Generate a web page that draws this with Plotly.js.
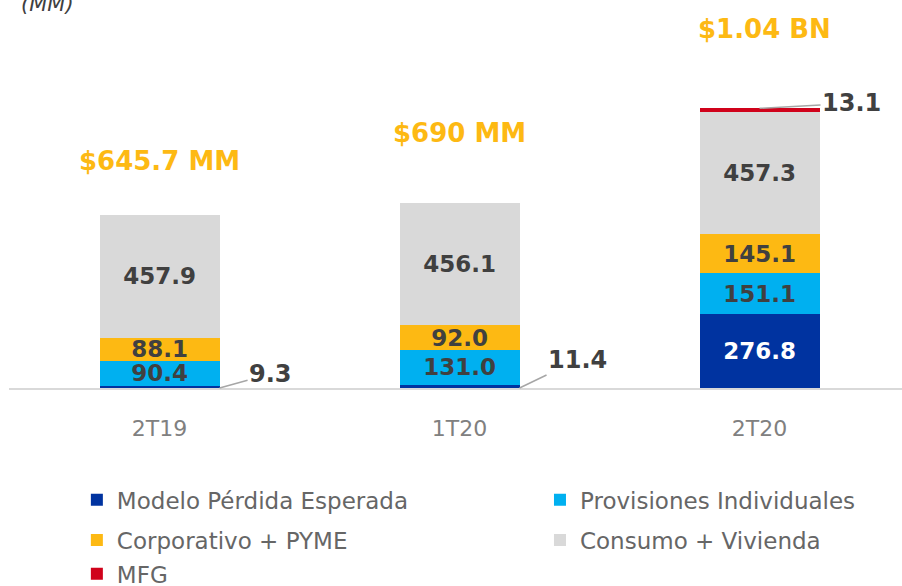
<!DOCTYPE html>
<html>
<head>
<meta charset="utf-8">
<script src="https://cdn.plot.ly/plotly-3.0.1.min.js"></script>
<style>html,body{margin:0;padding:0;background:#fff;}#chart{width:902px;height:586px;}</style>
</head>
<body>
<div id="chart"></div>
<script>
const categories = ['2T19', '1T20', '2T20'];
const modelo = [9.3, 11.4, 276.8];
const provisiones = [90.4, 131.0, 151.1];
const corporativo = [88.1, 92.0, 145.1];
const consumo = [457.9, 456.1, 457.3];
const mfg = [0, 0, 13.1];
const totalLabels = ['$645.7 MM', '$690 MM', '$1.04 BN'];
const seriesNames = ['Modelo Pérdida Esperada', 'Provisiones Individuales', 'Corporativo + PYME', 'Consumo + Vivienda', 'MFG'];

const FONT = 'DejaVu Sans';
const colors = ['#0033A0', '#00B0F0', '#FDB913', '#D9D9D9', '#D0021B'];
const labelColors = ['#FFFFFF', '#404040', '#404040', '#404040', '#404040'];
const legendIds = ['legend', 'legend2', 'legend3', 'legend4', 'legend5'];
const series = [modelo, provisiones, corporativo, consumo, mfg];
const insideMin = 50;

const traces = series.map((vals, s) => ({
  type: 'bar',
  name: seriesNames[s],
  x: categories,
  y: vals,
  marker: {color: colors[s], line: {width: 0}},
  text: vals.map(v => v >= insideMin ? v.toFixed(1) : ''),
  textposition: 'inside',
  insidetextanchor: 'middle',
  textangle: 0,
  constraintext: 'none',
  insidetextfont: {family: FONT, size: 23, color: labelColors[s], weight: 'bold'},
  hoverinfo: 'skip',
  legend: legendIds[s]
}));

const totals = categories.map((c, i) => series.reduce((a, v) => a + v[i], 0));
const totalShift = [54, 70, 79];
const totalX = [0, 0, 5];
const annotations = [];
categories.forEach((c, i) => {
  annotations.push({
    x: i, y: totals[i], xref: 'x', yref: 'y', text: totalLabels[i], showarrow: false,
    yshift: totalShift[i], xshift: totalX[i],
    font: {family: FONT, size: 26, color: '#FDB913', weight: 'bold'}
  });
});
// callouts for small segments
const calloutFont = {family: FONT, size: 24, color: '#404040', weight: 'bold'};
const modeloOffsets = [[51, -14], [58, -28], [0, 0]];
modelo.forEach((v, i) => {
  if (v > 0 && v < insideMin) {
    annotations.push({
      x: i + 0.2, y: 0, xref: 'x', yref: 'y', text: v.toFixed(1), showarrow: true,
      arrowhead: 0, arrowwidth: 1.5, arrowcolor: '#A6A6A6', standoff: 0,
      ax: modeloOffsets[i][0], ay: modeloOffsets[i][1],
      font: calloutFont
    });
  }
});
mfg.forEach((v, i) => {
  if (v > 0 && v < insideMin) {
    annotations.push({
      x: i, y: totals[i], xref: 'x', yref: 'y', text: v.toFixed(1), showarrow: true,
      arrowhead: 0, arrowwidth: 1.5, arrowcolor: '#A6A6A6', standoff: 0,
      ax: 92, ay: -5,
      font: calloutFont
    });
  }
});
annotations.push({
  x: 0, y: 1, xref: 'paper', yref: 'paper', xanchor: 'left', yanchor: 'middle',
  xshift: 10, yshift: 16, text: '<i>(MM)</i>', showarrow: false,
  font: {family: FONT, size: 21, color: '#404040'}
});

const legendBase = {
  orientation: 'h', xanchor: 'left', yanchor: 'middle', traceorder: 'normal',
  font: {family: FONT, size: 23, color: '#666666'}, bgcolor: 'rgba(0,0,0,0)'
};
// legend placement (paper coords): two columns, three rows
const legendPos = [[0.076, -0.304], [0.5946, -0.304], [0.076, -0.413], [0.5946, -0.413], [0.076, -0.505]];

const layout = {
  width: 902, height: 586,
  margin: {l: 9, r: 0, t: 20, b: 198, autoexpand: false},
  paper_bgcolor: '#ffffff', plot_bgcolor: '#ffffff',
  barmode: 'stack', bargap: 0.6,
  showlegend: true,
  xaxis: {
    type: 'category', range: [-0.502, 2.475], showgrid: false, zeroline: false,
    showline: true, linecolor: '#D9D9D9', linewidth: 2,
    ticks: 'outside', ticklen: 20, tickcolor: 'rgba(0,0,0,0)',
    tickfont: {family: FONT, size: 22, color: '#808080'}, fixedrange: true,
    automargin: false
  },
  yaxis: {range: [0, 1373], visible: false, fixedrange: true},
  annotations: annotations,
  font: {family: FONT}
};
legendIds.forEach((id, k) => {
  layout[id] = Object.assign({}, legendBase, {x: legendPos[k][0], y: legendPos[k][1]});
});

Plotly.newPlot('chart', traces, layout, {displayModeBar: false, staticPlot: true});
</script>
</body>
</html>
